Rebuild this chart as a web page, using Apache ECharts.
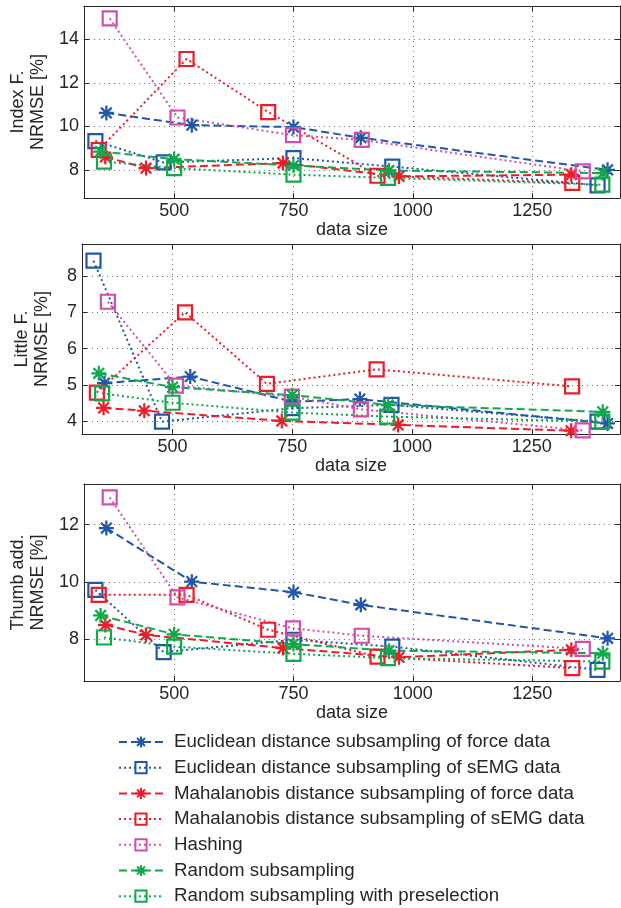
<!DOCTYPE html>
<html><head><meta charset="utf-8">
<script src="https://cdn.jsdelivr.net/npm/echarts@6/dist/echarts.min.js"></script>
<style>html,body{margin:0;padding:0;background:#fff}#c{width:621px;height:908px}</style>
</head><body><div id="c"></div>
<script>
// ---- data ----
const seriesNames = [
  'Euclidean distance subsampling of force data',
  'Euclidean distance subsampling of sEMG data',
  'Mahalanobis distance subsampling of force data',
  'Mahalanobis distance subsampling of sEMG data',
  'Hashing',
  'Random subsampling',
  'Random subsampling with preselection'
];
// data sizes per method
const xEucForce   = [358, 537, 750, 891, 1408];
const xEucEmg     = [335, 478, 750, 957, 1387];
const xMahForce   = [356, 441, 728, 971, 1332];
const xMahEmg     = [342, 526, 697, 926, 1334];
const xHashing    = [365, 507, 749, 893, 1356];
const xRandom     = [346, 500, 750, 950, 1398];
const xRandomPre  = [353, 500, 750, 948, 1397];

// Index finger NRMSE [%]
const indexEucForce  = [10.62, 10.06, 9.97, 9.48, 8.01];
const indexEucEmg    = [9.33, 8.35, 8.55, 8.16, 7.30];
const indexMahForce  = [8.60, 8.09, 8.32, 7.71, 7.79];
const indexMahEmg    = [8.92, 13.09, 10.66, 7.74, 7.41];
const indexHashing   = [14.95, 10.41, 9.60, 9.38, 7.94];
const indexRandom    = [8.85, 8.50, 8.21, 7.98, 7.86];
const indexRandomPre = [8.39, 8.09, 7.79, 7.64, 7.33];

// Little finger NRMSE [%]
const littleEucForce  = [5.05, 5.23, 4.54, 4.61, 3.94];
const littleEucEmg    = [8.42, 3.99, 4.36, 4.45, 3.99];
const littleMahForce  = [4.37, 4.29, 4.01, 3.90, 3.74];
const littleMahEmg    = [4.79, 7.00, 5.03, 5.43, 4.96];
const littleHashing   = [7.29, 4.98, 4.68, 4.33, 3.75];
const littleRandom    = [5.32, 4.94, 4.72, 4.45, 4.26];
const littleRandomPre = [4.77, 4.51, 4.24, 4.13, 3.99];

// Thumb adduction NRMSE [%]
const thumbEucForce  = [11.88, 10.01, 9.64, 9.20, 8.03];
const thumbEucEmg    = [9.72, 7.55, 7.98, 7.74, 6.93];
const thumbMahForce  = [8.50, 8.15, 7.69, 7.37, 7.63];
const thumbMahEmg    = [9.55, 9.55, 8.33, 7.39, 6.99];
const thumbHashing   = [12.95, 9.46, 8.38, 8.12, 7.66];
const thumbRandom    = [8.83, 8.17, 7.83, 7.60, 7.51];
const thumbRandomPre = [8.06, 7.74, 7.49, 7.34, 7.22];

const xTicks = [500, 750, 1000, 1250];
const yTicksIndex = [8, 10, 12, 14];
const yTicksLittle = [4, 5, 6, 7, 8];
const yTicksThumb = [8, 10, 12];
const panelNames = ['Index F.\nNRMSE [%]', 'Little F.\nNRMSE [%]', 'Thumb add.\nNRMSE [%]'];
const xAxisName = 'data size';

// ---- styling ----
const FONT = '"Liberation Sans", Arial, sans-serif';
const TXT = '#262626';
const BLUE = '#2157a8', RED = '#ec1c2a', MAG = '#d24fa9', GREEN = '#10a84b';
const STAR = 'path://M5,0L5,10M0,5L10,5M1.46,1.46L8.54,8.54M1.46,8.54L8.54,1.46';
const SQ = 'path://M0,0L10,0L10,10L0,10Z';
const DASH = [8, 4], DOT = [2, 3];
const styles = [
  {c: BLUE, sym: STAR, ls: DASH},
  {c: BLUE, sym: SQ, ls: DOT},
  {c: RED, sym: STAR, ls: DASH},
  {c: RED, sym: SQ, ls: DOT},
  {c: MAG, sym: SQ, ls: DOT},
  {c: GREEN, sym: STAR, ls: DASH},
  {c: GREEN, sym: SQ, ls: DOT}
];
const xs = [xEucForce, xEucEmg, xMahForce, xMahEmg, xHashing, xRandom, xRandomPre];
const panels = [
  {vals: [indexEucForce, indexEucEmg, indexMahForce, indexMahEmg, indexHashing, indexRandom, indexRandomPre],
   ticks: yTicksIndex, min: 6.72, max: 15.52, top: 6, height: 192},
  {vals: [littleEucForce, littleEucEmg, littleMahForce, littleMahEmg, littleHashing, littleRandom, littleRandomPre],
   ticks: yTicksLittle, min: 3.65, max: 8.88, top: 244, height: 190},
  {vals: [thumbEucForce, thumbEucEmg, thumbMahForce, thumbMahEmg, thumbHashing, thumbRandom, thumbRandomPre],
   ticks: yTicksThumb, min: 6.54, max: 13.42, top: 484, height: 197}
];
const X_MIN = 311, X_MAX = 1434;

const grid = [], xAxis = [], yAxis = [], series = [];
const lineAx = {show: true, onZero: false, lineStyle: {color: TXT, width: 1}};
const gridLine = {show: true, lineStyle: {color: '#6e6e6e', width: 1, type: [1, 4]}};
const plain = v => String(v);
panels.forEach((p, i) => {
  grid.push({left: 82, right: 1, top: p.top, height: p.height});
  xAxis.push({
    type: 'value', gridIndex: i, min: X_MIN, max: X_MAX, position: 'bottom',
    axisLine: lineAx,
    axisTick: {show: true, inside: true, length: 5, customValues: xTicks, lineStyle: {color: TXT}},
    axisLabel: {customValues: xTicks, formatter: plain, fontSize: 18, color: TXT, fontFamily: FONT, margin: 4},
    splitLine: gridLine,
    name: xAxisName, nameLocation: 'middle', nameGap: 19,
    nameTextStyle: {fontSize: 18, color: TXT, fontFamily: FONT}
  });
  xAxis.push({
    type: 'value', gridIndex: i, min: X_MIN, max: X_MAX, position: 'top',
    axisLine: lineAx,
    axisTick: {show: true, inside: true, length: 5, customValues: xTicks, lineStyle: {color: TXT}},
    axisLabel: {show: false}, splitLine: {show: false}
  });
  yAxis.push({
    type: 'value', gridIndex: i, min: p.min, max: p.max, position: 'left',
    axisLine: lineAx,
    axisTick: {show: true, inside: true, length: 5, customValues: p.ticks, lineStyle: {color: TXT}},
    axisLabel: {customValues: p.ticks, formatter: plain, fontSize: 18, color: TXT, fontFamily: FONT, margin: 5},
    splitLine: gridLine,
    name: panelNames[i], nameLocation: 'middle', nameRotate: 90, nameGap: 30,
    nameTextStyle: {fontSize: 18, color: TXT, fontFamily: FONT, lineHeight: 20}
  });
  yAxis.push({
    type: 'value', gridIndex: i, min: p.min, max: p.max, position: 'right',
    axisLine: lineAx,
    axisTick: {show: true, inside: true, length: 5, customValues: p.ticks, lineStyle: {color: TXT}},
    axisLabel: {show: false}, splitLine: {show: false}
  });
  p.vals.forEach((v, k) => {
    const s = styles[k];
    series.push({
      type: 'line', name: seriesNames[k], xAxisIndex: 2 * i, yAxisIndex: 2 * i,
      data: v.map((y, j) => [xs[k][j], y]),
      symbol: s.sym, symbolSize: s.sym === STAR ? 15 : 14, showSymbol: true,
      lineStyle: {color: s.c, width: 2, type: s.ls},
      itemStyle: {color: s.sym === STAR ? s.c : 'transparent', borderColor: s.c, borderWidth: 2.2},
      silent: true, animation: false, z: 2
    });
  });
});

const chart = echarts.init(document.getElementById('c'), null, {renderer: 'canvas'});
chart.setOption({
  backgroundColor: '#fff',
  animation: false,
  textStyle: {fontFamily: FONT},
  grid, xAxis, yAxis, series,
  legend: {
    data: seriesNames, orient: 'vertical', left: 118, top: 732, padding: 0,
    itemWidth: 44, itemHeight: 14, itemGap: 5.7,
    textStyle: {fontSize: 18.7, color: TXT, fontFamily: FONT, lineHeight: 20, padding: [0, 0, 0, 6]},
    selectedMode: false
  }
});
</script></body></html>
